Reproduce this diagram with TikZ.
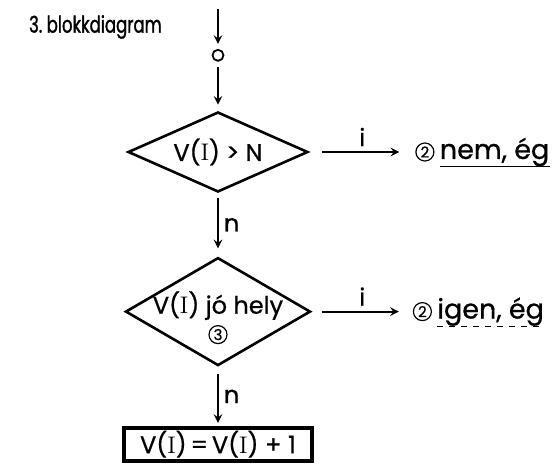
\documentclass[tikz,border=0pt]{standalone}
\usepackage{fontspec}
\usepackage{tikz}
\usetikzlibrary{shapes.geometric, arrows, positioning}
\newfontfamily\popfont{Poppins}[FakeBold=0.8]
\newfontfamily\titlefont{Poppins}[FakeBold=1.2, FakeStretch=0.72]
\newcommand{\VI}{V(\textrm{I})}

\begin{document}
\begin{tikzpicture} [
        x = 0.5pt, y = -0.5pt,
        font = \popfont\fontsize{12}{14}\selectfont,
        decision/.style = {diamond, draw, line width=1.3pt, inner sep=0pt},
        process/.style = {rectangle, draw, line width=1.8pt, minimum width=94pt, minimum height=16.5pt, inner sep=0pt},
        edge/.style = {draw, line width=0.9pt, -stealth, shorten >= 2.5pt, shorten <= 2.5pt},
        lbl/.style = {inner sep=2.5pt},
        circnum/.style = {circle, draw, line width=0.6pt, minimum size=9pt, inner sep=0pt, font=\popfont\fontsize{7.5}{8}\selectfont},
        result/.style = {inner sep=0pt, font=\popfont\fontsize{13.5}{15}\selectfont}
    ]
    \useasboundingbox (0,0) rectangle (558,466);

    \node[anchor=west, font=\titlefont\fontsize{11.5}{13}\selectfont] (title) at (22,27) {3.\ blokkdiagram};

    \node[decision, aspect=2.25, minimum width=90pt, minimum height=40pt] (d1) at (218,152) {\VI{} > N};
    \node[circle, draw, line width=0.9pt, minimum size=5.5pt, inner sep=0pt, above=24.5pt of d1] (start) {};
    \coordinate[above=20pt of start] (entry);
    \node[decision, aspect=1.7, minimum width=92.5pt, minimum height=54pt, below=31.5pt of d1] (d2) {};
    \node[inner sep=0pt] (q2) at ([yshift=3pt]d2.center) {\VI{} jó hely};
    \node[circnum] (c3) at ([yshift=-11.5pt]d2.center) {3};
    \node[process, below=29.5pt of d2] (inc) {\VI{}\,=\,\VI{}\;+\;1};

    \node[circnum, right=53pt of d1]   (c1) {2};
    \node[result, right=2.5pt of c1] (out1) {nem, ég};
    \node[circnum, right=50.5pt of d2] (c2) {2};
    \node[result, right=2.5pt of c2] (out2) {igen, ég};
    \draw[line width=0.6pt] (out1.south west) -- (out1.south east);
    \draw[line width=0.6pt, dashed] (out2.south west) -- (out2.south east);

    \draw[edge, shorten <= 0pt] (entry) -- (start);
    \path[edge] (start) edge[shorten >= 3pt] (d1);
    \path[edge] (d1) edge[shorten >= 4pt] node [lbl, right] {n} (d2) edge[shorten <= 6.5pt, shorten >= 8pt] node [lbl, above] {i} (c1);
    \path[edge] (d2) edge[shorten <= 3.5pt, shorten >= 1.5pt] node [lbl, right] {n} (inc) edge[shorten <= 5pt, shorten >= 7pt] node [lbl, above] {i} (c2);

\end{tikzpicture}
\end{document}
